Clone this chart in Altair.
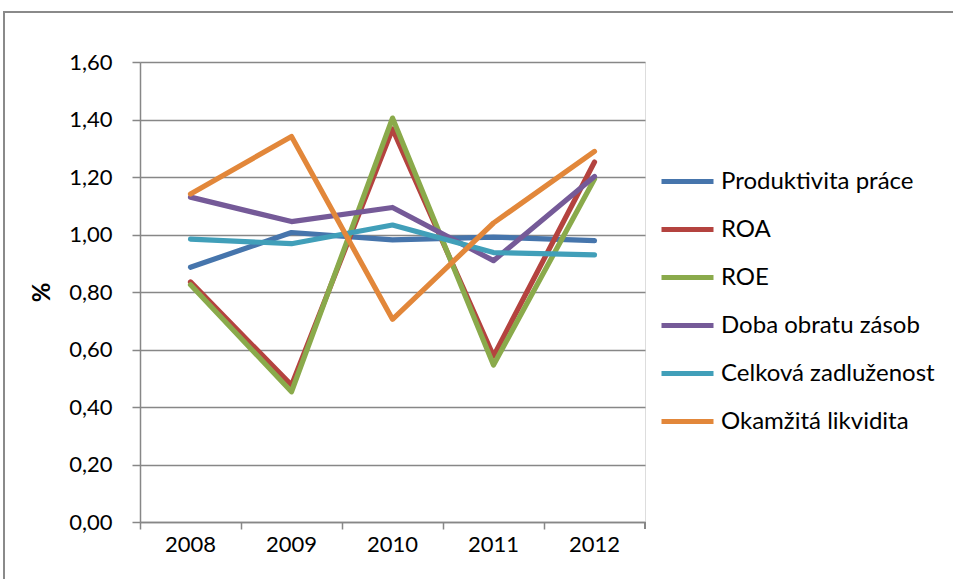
import altair as alt
import pandas as pd

years = ["2008", "2009", "2010", "2011", "2012"]
series = ["Produktivita práce", "ROA", "ROE", "Doba obratu zásob",
          "Celková zadluženost", "Okamžitá likvidita"]
produktivita = [0.886, 1.007, 0.981, 0.991, 0.979]
roa = [0.835, 0.476, 1.367, 0.577, 1.252]
roe = [0.825, 0.453, 1.405, 0.546, 1.193]
doba = [1.130, 1.045, 1.094, 0.909, 1.202]
zadluzenost = [0.984, 0.968, 1.033, 0.937, 0.929]
likvidita = [1.141, 1.341, 0.705, 1.040, 1.289]
colors = ["#4675AC", "#B4433F", "#8AAA4B", "#755A98", "#419FB9", "#E2873A"]

rows = []
for name, vals in zip(series, [produktivita, roa, roe, doba, zadluzenost, likvidita]):
    for yr, v in zip(years, vals):
        rows.append({"series": name, "year": yr, "value": v})
df = pd.DataFrame(rows)

W, H = 505, 460
FONT = "Lato"
GRID = "#878787"
FS = 22

x = alt.X("year:O", title=None, bandPosition=0.5,
          scale=alt.Scale(type="band", domain=years, paddingInner=0, paddingOuter=0),
          axis=alt.Axis(bandPosition=0, labelAngle=0, labelFontSize=FS,
                        labelFont=FONT, labelColor="#000", labelPadding=5, tickSize=7,
                        tickColor=GRID, tickWidth=1.5, domainColor=GRID, domainWidth=1.5,
                        grid=False))
y = alt.Y("value:Q", title="%",
          scale=alt.Scale(domain=[0, 1.6], nice=False, zero=True),
          axis=alt.Axis(values=[0, 0.2, 0.4, 0.6, 0.8, 1.0, 1.2, 1.4, 1.6],
                        labelExpr="replace(format(datum.value, '.2f'), '.', ',')",
                        labelFontSize=FS, labelFont=FONT, labelColor="#000",
                        labelPadding=20, tickSize=8, tickColor=GRID, tickWidth=1.5,
                        domainColor=GRID, domainWidth=1.5, gridColor=GRID, gridWidth=1.5,
                        titleFontSize=24, titleFont=FONT, titleFontWeight="bold",
                        titleColor="#000", titlePadding=14, titleAngle=-90))
color = alt.Color("series:N", scale=alt.Scale(domain=series, range=colors),
                  legend=alt.Legend(title=None, orient="none", legendX=519, legendY=91,
                                    symbolType="stroke", symbolSize=2704,
                                    symbolStrokeWidth=5, labelFontSize=24, labelFont=FONT,
                                    labelColor="#000", labelOffset=5, rowPadding=7,
                                    labelLimit=400))

base = alt.Chart(df)
layers = []
for s in series:
    layers.append(
        base.transform_filter(alt.datum.series == s)
        .mark_line(strokeWidth=5.2, strokeCap="round", strokeJoin="round")
        .encode(x=x, y=y, color=color)
    )

border = alt.Chart(df).mark_rect(fill=None, stroke="#8a8a8a", strokeWidth=1.5).encode(
    x=alt.value(-136), x2=alt.value(900), y=alt.value(-50), y2=alt.value(700))
end_tick = alt.Chart(df).mark_rule(color=GRID, strokeWidth=1.5).encode(
    x=alt.value(W), y=alt.value(H), y2=alt.value(H + 7))

chart = alt.layer(border, end_tick, *layers).properties(
    width=W, height=H,
    autosize=alt.AutoSizeParams(type="none"),
    padding={"left": 140, "top": 62, "right": 953 - 140 - W, "bottom": 579 - 62 - H},
).configure_view(stroke=None).configure(background="white")

chart.save("out.html", embed_options={"renderer": "svg", "actions": False})
